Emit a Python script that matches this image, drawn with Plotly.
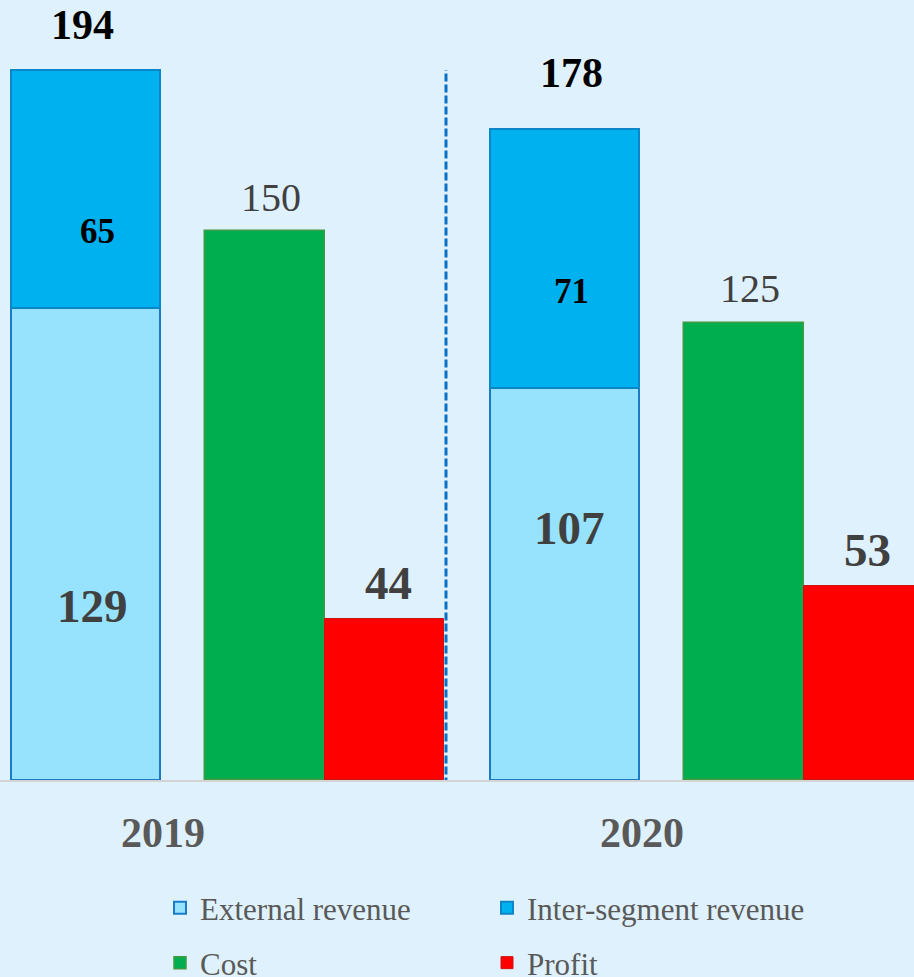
import plotly.graph_objects as go

# ---- data -------------------------------------------------------------
years = ["2019", "2020"]
external_revenue = [129, 107]
inter_segment_revenue = [65, 71]
cost = [150, 125]
profit = [44, 53]
total_revenue = [e + i for e, i in zip(external_revenue, inter_segment_revenue)]

# ---- styling ----------------------------------------------------------
BG = "#dff1fc"
C_EXT = "#97e2fd"
C_INTER = "#00b1f0"
C_COST = "#00ae4f"
C_PROFIT = "#ff0000"
SERIF = "Liberation Serif"

W, H = 914, 977
PLOT_H = 780
PX_PER_CAT = 479.0          # horizontal pixels per category step
CAT0_PX = 163.0             # pixel position of the first category centre
Y_MAX = PLOT_H / 3.66       # 3.66 px per unit

def px(dx):
    return dx / PX_PER_CAT

# bar geometry (offset/width in category units)
REV_OFF, REV_W = px(11 - CAT0_PX), px(149)
COST_OFF, COST_W = px(205 - CAT0_PX), px(120)
PROF_OFF, PROF_W = px(325 - CAT0_PX), px(119)

fig = go.Figure()

fig.add_trace(go.Bar(
    name="External revenue", x=years, y=external_revenue,
    offset=REV_OFF, width=REV_W, marker=dict(color=C_EXT, line=dict(color="#1a7cc8", width=2)),
    legend="legend",
))
fig.add_trace(go.Bar(
    name="Inter-segment revenue", x=years, y=inter_segment_revenue, base=external_revenue,
    offset=REV_OFF, width=REV_W, marker=dict(color=C_INTER, line=dict(color="#0b86c6", width=2)),
    legend="legend",
))
fig.add_trace(go.Bar(
    name="Cost", x=years, y=cost,
    offset=COST_OFF, width=COST_W, marker=dict(color=C_COST, line=dict(color="#3f9a45", width=1.5)),
    legend="legend2",
))
fig.add_trace(go.Bar(
    name="Profit", x=years, y=profit,
    offset=PROF_OFF, width=PROF_W, marker=dict(color=C_PROFIT, line=dict(color="#d01010", width=1)),
    legend="legend2",
))

# ---- value labels -----------------------------------------------------
rev_c = REV_OFF + REV_W / 2
cost_c = COST_OFF + COST_W / 2
prof_c = PROF_OFF + PROF_W / 2

def label(i, xoff, y, text, size, color, bold, xshift, yshift):
    fig.add_annotation(
        x=i + xoff, y=y, xref="x", yref="y", text=f"<b>{text}</b>" if bold else text,
        showarrow=False, xanchor="center", yanchor="middle",
        xshift=xshift, yshift=yshift,
        font=dict(family=SERIF, size=size, color=color),
    )

tot_shift = [(-3, 45), (7, 56)]
inter_shift = [(12, -43), (7, -33)]
ext_shift = [(7, -62), (5, 56)]
for i in range(len(years)):
    label(i, rev_c, total_revenue[i], total_revenue[i], 42, "#000000", True, *tot_shift[i])
    label(i, rev_c, external_revenue[i] + inter_segment_revenue[i] / 2,
          inter_segment_revenue[i], 35, "#000000", True, *inter_shift[i])
    label(i, rev_c, external_revenue[i] / 2, external_revenue[i], 47, "#404040", True, *ext_shift[i])
    label(i, cost_c, cost[i], cost[i], 40, "#404040", False, 6, 34)
    label(i, prof_c, profit[i], profit[i], 47, "#404040", True, 4, 36)

# dashed divider between the two years
div_x = px(446 - CAT0_PX)
fig.add_shape(type="line", xref="x", yref="y", x0=div_x, x1=div_x,
              y0=-1.5, y1=max(total_revenue),
              line=dict(color="#0a70c4", width=3, dash="8px,3px"))

x_lo = -CAT0_PX / PX_PER_CAT
x_hi = x_lo + W / PX_PER_CAT

legend_font = dict(family=SERIF, size=31, color="#595959")

fig.update_layout(
    width=W, height=H,
    margin=dict(l=0, r=0, t=0, b=H - PLOT_H, autoexpand=False),
    paper_bgcolor=BG, plot_bgcolor=BG,
    barmode="overlay",
    bargap=0,
    font=dict(family=SERIF, color="#595959"),
    xaxis=dict(
        type="category", range=[x_lo, x_hi], showgrid=False, zeroline=False,
        showline=True, linecolor="#d4d4d4", linewidth=2,
        ticks="outside", ticklen=15, tickcolor="rgba(0,0,0,0)",
        tickfont=dict(family=SERIF, size=42, color="#595959"),
        tickvals=years, ticktext=[f"<b>{y}</b>" for y in years],
    ),
    yaxis=dict(range=[0, Y_MAX], visible=False, showgrid=False, zeroline=False),
    legend=dict(
        orientation="h", x=160 / W, xanchor="left", y=-(908 - PLOT_H) / PLOT_H, yanchor="middle",
        bgcolor="rgba(0,0,0,0)", entrywidth=282, traceorder="normal", itemwidth=30,
        font=legend_font,
    ),
    legend2=dict(
        orientation="h", x=160 / W, xanchor="left", y=-(963 - PLOT_H) / PLOT_H, yanchor="middle",
        bgcolor="rgba(0,0,0,0)", entrywidth=282, traceorder="normal", itemwidth=30,
        font=legend_font,
    ),
)

fig.write_html("out.html")
